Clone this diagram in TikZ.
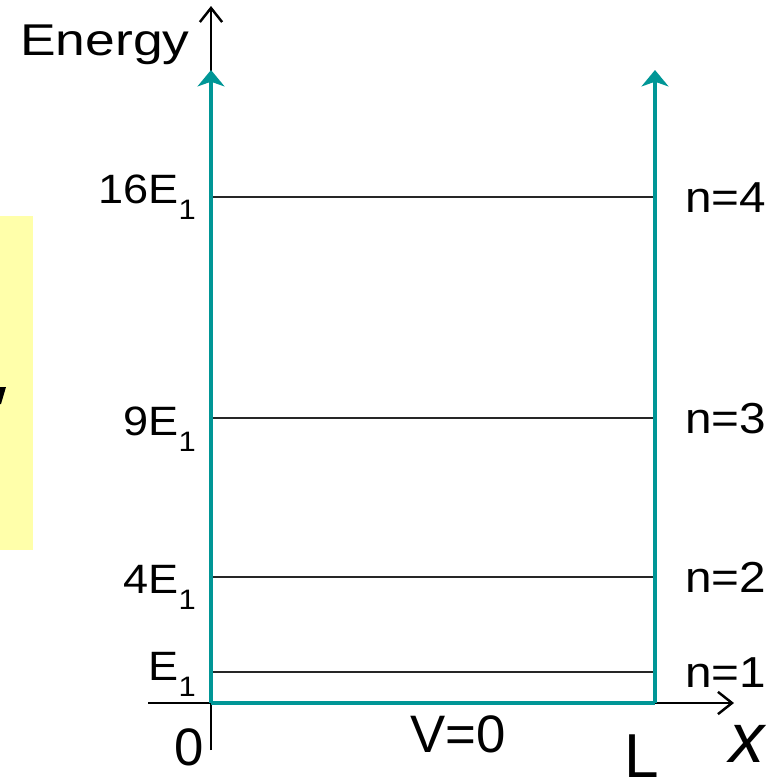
\documentclass[tikz,border=0pt]{standalone}
\usepackage{fontspec}
\setmainfont{Liberation Sans}
\usetikzlibrary{arrows.meta}
\definecolor{wallteal}{RGB}{0,150,150}
\definecolor{noteyellow}{RGB}{255,255,170}
\newcommand{\wide}[1]{\scalebox{1.1}[1]{#1}}
\newcommand{\Eone}{E\raisebox{-14.5pt}{\fontsize{24}{24}\selectfont 1}}
\tikzset{
  axis/.style={line width=2.1pt, -{Straight Barb[length=12pt,width=19pt,line width=2.1pt]}},
  wall/.style={wallteal, line width=3.9pt},
  walltip/.style={wall, -{Stealth[length=14pt,width=23pt,inset=4pt]}},
  level/.style={black!85, line width=1.6pt},
  elab/.style={inner sep=0pt, anchor=base east, font=\fontsize{35}{40}\selectfont},
  nlab/.style={inner sep=0pt, anchor=base west, font=\fontsize{37}{42}\selectfont},
  big/.style={inner sep=0pt, font=\fontsize{45}{50}\selectfont}
}
\begin{document}
\begin{tikzpicture}[x=0.03cm,y=-0.03cm]
    \useasboundingbox (0,0) rectangle (782,776);
    \fill[noteyellow] (0,216) rectangle (33,550);
    \fill (0,387) -- (6,387) -- (1,404) -- (0,404) -- cycle;

    % axes
    \coordinate (O) at (211,703);
    \coordinate (ybot) at (211,750);
    \coordinate (ytop) at (211,6);
    \coordinate (xleft) at (148,703);
    \coordinate (xright) at (734,703);
    \draw[axis] (ybot) -- (ytop);
    \draw[axis] (xleft) -- (xright);

    % levels
    \foreach \y/\lab/\base/\n in {197/16\Eone/203/4, 418/9\Eone/435/3, 577/4\Eone/593/2, 672/\Eone/680/1}{
        \coordinate (l\n) at (211,\y);
        \coordinate (r\n) at (655,\y);
        \draw[level] (l\n) -- (r\n);
        \node[elab] (E\n) at (196,\base) {\wide{\lab}};
        \node[nlab] (n\n) at (685,\y+15.5) {\wide{n=\n}};
    }

    % well walls
    \coordinate (Rw) at (655,703);
    \coordinate (Ltop) at (211,70);
    \coordinate (Rtop) at (655,70);
    \draw[walltip] (O) -- (Ltop);
    \draw[walltip] (Rw) -- (Rtop);
    \draw[wall] (O) -- (Rw);

    \node[inner sep=0pt, anchor=base west, font=\fontsize{38}{44}\selectfont] (energy) at (20,55) {\scalebox{1.2}[1]{Energy}};
    \node[big, anchor=base east] (zero) at (204,765) {0};
    \node[big, anchor=base west] (V) at (410,752) {V=0};
    \node[inner sep=0pt, anchor=base west, font=\fontsize{53}{60}\selectfont] (Lbl) at (624,777) {L};
    \node[inner sep=0pt, anchor=base west, font=\fontsize{60}{66}\selectfont\itshape] (xlab) at (729,762) {x};
\end{tikzpicture}
\end{document}
